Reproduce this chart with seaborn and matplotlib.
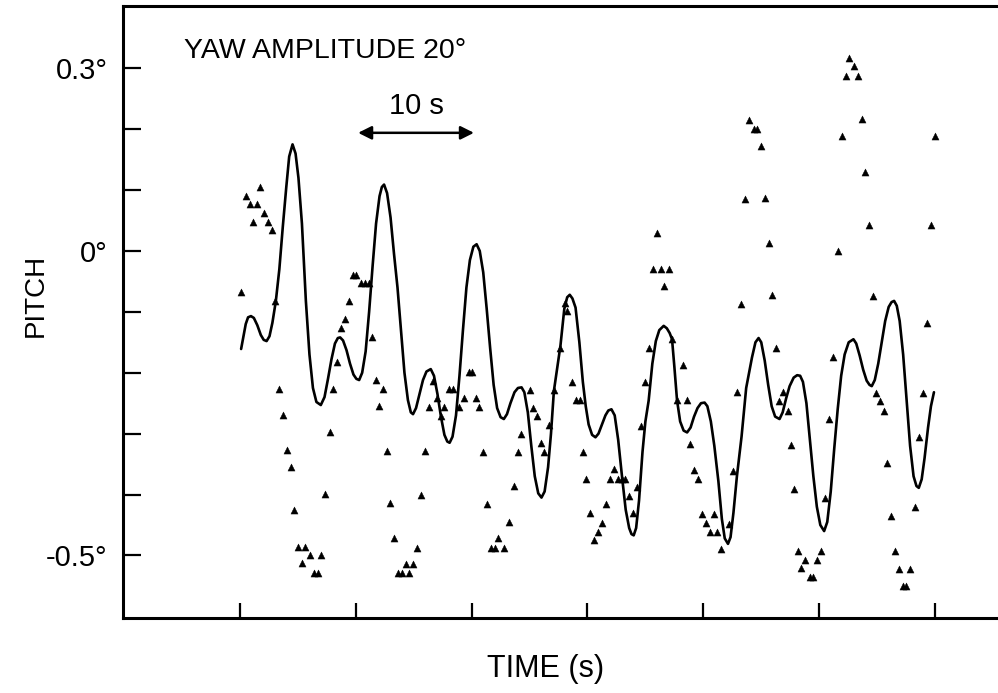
import matplotlib
matplotlib.use("Agg")
import matplotlib.pyplot as plt
import seaborn as sns
import pandas as pd

# ---- data (time in s, pitch in degrees) ----
curve_t = [0.10, 0.3, 0.5, 0.7, 0.95, 1.2, 1.5, 1.8, 2.05, 2.3,
           2.55, 2.8, 3.1, 3.4, 3.7, 4.0, 4.25, 4.54,
           4.8, 5.05, 5.35, 5.69, 6.0, 6.3, 6.6, 6.98,
           7.3, 7.6, 7.9, 8.2, 8.45, 8.65,
           8.9, 9.2, 9.5, 9.8, 10.05, 10.29,
           10.55, 10.85, 11.15, 11.45, 11.75, 12.05, 12.25, 12.44,
           12.7, 13.0, 13.3, 13.6, 13.9, 14.2, 14.5, 14.75, 14.94,
           15.2, 15.5, 15.8, 16.1, 16.47,
           16.75, 17.05, 17.35, 17.65, 17.9, 18.1,
           18.35, 18.65, 18.95, 19.25, 19.55, 19.85, 20.15, 20.43,
           20.7, 21.0, 21.3, 21.6, 21.9, 22.2, 22.5, 22.78,
           23.05, 23.35, 23.7, 24.0, 24.31,
           24.55, 24.85, 25.15, 25.45, 25.75, 26.03,
           26.3, 26.6, 26.85, 27.1, 27.4, 27.67, 28.0, 28.25, 28.47,
           28.7, 28.97, 29.3, 29.6, 29.85, 30.1, 30.4, 30.69,
           30.95, 31.25, 31.55, 31.8, 32.07,
           32.35, 32.65, 32.99, 33.3, 33.6, 33.8, 33.99,
           34.2, 34.45, 34.75, 35.0, 35.28, 35.6, 35.9, 36.2, 36.58,
           36.85, 37.1, 37.3, 37.5, 37.73, 38.0, 38.3, 38.6,
           38.9, 39.2, 39.5, 39.8, 40.11,
           40.35, 40.65, 40.95, 41.3, 41.6, 41.85, 42.13,
           42.35, 42.6, 42.9, 43.3, 43.7, 44.2, 44.5, 44.77,
           45.0, 45.3, 45.6, 45.9, 46.2, 46.58,
           46.85, 47.15, 47.45, 47.8, 48.1, 48.36,
           48.6, 48.9, 49.2, 49.5, 49.8, 50.1, 50.43,
           50.7, 51.0, 51.3, 51.6, 51.9, 52.2, 52.55, 52.96,
           53.2, 53.5, 53.8, 54.1, 54.35, 54.54,
           54.8, 55.1, 55.4, 55.7, 56.0, 56.25, 56.47,
           56.7, 56.95, 57.25, 57.55, 57.85, 58.15, 58.4, 58.6,
           58.85, 59.1, 59.4, 59.65, 59.91]
curve_v = [-0.161, -0.140, -0.120, -0.109, -0.107, -0.110, -0.122, -0.138, -0.146, -0.148,
           -0.140, -0.118, -0.082, -0.030, 0.040, 0.105, 0.155, 0.175,
           0.160, 0.120, 0.045, -0.082, -0.170, -0.225, -0.248, -0.253,
           -0.240, -0.210, -0.178, -0.152, -0.143, -0.142,
           -0.147, -0.163, -0.185, -0.203, -0.210, -0.212,
           -0.200, -0.165, -0.100, -0.025, 0.045, 0.090, 0.105, 0.109,
           0.095, 0.055, -0.005, -0.060, -0.130, -0.200, -0.245, -0.265, -0.268,
           -0.258, -0.235, -0.212, -0.198, -0.194,
           -0.205, -0.235, -0.272, -0.302, -0.313, -0.315,
           -0.305, -0.270, -0.205, -0.130, -0.060, -0.015, 0.007, 0.011,
           0.000, -0.035, -0.095, -0.160, -0.220, -0.258, -0.273, -0.276,
           -0.268, -0.250, -0.232, -0.225, -0.224,
           -0.232, -0.265, -0.320, -0.370, -0.398, -0.405,
           -0.395, -0.355, -0.300, -0.230, -0.190, -0.155, -0.095, -0.076, -0.072,
           -0.078, -0.093, -0.150, -0.215, -0.255, -0.285, -0.302, -0.306,
           -0.300, -0.285, -0.270, -0.262, -0.260,
           -0.270, -0.310, -0.372, -0.425, -0.455, -0.465, -0.467,
           -0.455, -0.410, -0.330, -0.280, -0.246, -0.185, -0.148, -0.130, -0.123,
           -0.127, -0.135, -0.145, -0.190, -0.245, -0.280, -0.295, -0.298,
           -0.290, -0.272, -0.258, -0.250, -0.249,
           -0.255, -0.280, -0.320, -0.378, -0.440, -0.472, -0.481,
           -0.470, -0.430, -0.370, -0.305, -0.225, -0.175, -0.150, -0.143,
           -0.150, -0.180, -0.220, -0.255, -0.272, -0.276,
           -0.265, -0.242, -0.222, -0.208, -0.204, -0.205,
           -0.215, -0.250, -0.310, -0.370, -0.420, -0.450, -0.460,
           -0.445, -0.395, -0.325, -0.260, -0.205, -0.170, -0.150, -0.145,
           -0.152, -0.172, -0.195, -0.213, -0.220, -0.222,
           -0.212, -0.185, -0.150, -0.115, -0.092, -0.084, -0.082,
           -0.090, -0.115, -0.170, -0.245, -0.320, -0.370, -0.386, -0.389,
           -0.375, -0.340, -0.290, -0.255, -0.232]

point_t = [0.09, 0.52, 0.86, 1.44, 1.09, 1.77, 2.09, 2.41, 2.76, 3.06,
           3.39, 3.75, 4.05, 4.40, 4.70, 4.97, 5.65, 5.34, 6.03, 6.41,
           6.75, 7.01, 7.35, 7.74, 8.04, 8.38, 8.71, 9.05, 9.42, 9.80,
           10.06, 10.47, 10.82, 11.15, 11.38, 11.72, 12.39, 12.03, 12.66, 12.97,
           13.32, 13.66, 14.03, 14.63, 14.31, 14.94, 15.32, 15.67, 15.97, 16.35,
           16.66, 17.04, 17.35, 17.65, 18.04, 18.39, 18.91, 19.34, 19.77, 20.06,
           20.34, 20.66, 20.99, 21.29, 21.68, 22.03, 22.28, 22.78, 23.26, 23.62,
           23.97, 24.29, 25.00, 25.32, 25.66, 25.95, 26.29, 26.66, 27.09, 27.67,
           28.06, 28.25, 28.68, 29.05, 29.33, 29.63, 29.89, 30.26, 30.60, 30.92,
           31.25, 31.58, 31.94, 32.27, 32.63, 32.99, 33.28, 33.56, 33.91, 34.28,
           34.63, 34.96, 35.28, 35.66, 36.01, 36.32, 37.01, 36.64, 37.27, 38.25,
           37.73, 38.59, 38.88, 39.22, 39.54, 39.89, 40.23, 40.89, 40.54, 41.21,
           41.49, 42.22, 42.56, 42.91, 43.28, 43.62, 43.98, 44.34, 44.63, 44.94,
           45.29, 45.63, 45.92, 46.27, 46.92, 46.57, 47.27, 47.56, 47.86, 48.15,
           50.16, 48.82, 49.80, 48.47, 49.20, 49.51, 50.53, 50.89, 51.23, 51.61,
           51.96, 52.61, 53.02, 52.35, 53.34, 53.68, 53.97, 54.31, 54.63, 54.94,
           55.26, 55.60, 55.86, 56.18, 56.53, 56.88, 57.87, 57.27, 57.52, 58.25,
           58.59, 58.94, 59.28, 59.64, 60.00]
point_v = [-0.067, 0.090, 0.077, 0.077, 0.048, 0.105, 0.062, 0.048, 0.034, -0.082,
           -0.226, -0.270, -0.327, -0.355, -0.426, -0.486, -0.486, -0.512, -0.499, -0.529,
           -0.529, -0.499, -0.399, -0.298, -0.226, -0.183, -0.126, -0.112, -0.083, -0.039,
           -0.039, -0.053, -0.053, -0.053, -0.141, -0.212, -0.227, -0.255, -0.328, -0.414,
           -0.471, -0.529, -0.529, -0.529, -0.514, -0.514, -0.487, -0.400, -0.328, -0.257,
           -0.213, -0.241, -0.271, -0.257, -0.227, -0.227, -0.257, -0.241, -0.198, -0.198,
           -0.241, -0.257, -0.330, -0.415, -0.487, -0.487, -0.472, -0.487, -0.445, -0.386,
           -0.330, -0.301, -0.229, -0.258, -0.271, -0.315, -0.330, -0.286, -0.229, -0.159,
           -0.085, -0.099, -0.216, -0.244, -0.244, -0.330, -0.374, -0.431, -0.474, -0.461,
           -0.446, -0.416, -0.374, -0.358, -0.374, -0.374, -0.374, -0.402, -0.431, -0.388,
           -0.287, -0.216, -0.159, -0.029, 0.029, -0.029, -0.029, -0.057, -0.144, -0.188,
           -0.244, -0.244, -0.317, -0.360, -0.375, -0.432, -0.447, -0.432, -0.461, -0.461,
           -0.490, -0.448, -0.361, -0.232, -0.087, 0.086, 0.215, 0.200, 0.200, 0.172,
           0.087, 0.013, -0.072, -0.159, -0.232, -0.246, -0.262, -0.318, -0.391, -0.492,
           -0.492, -0.507, -0.507, -0.521, -0.535, -0.535, -0.405, -0.276, -0.174, 0.000,
           0.189, 0.317, 0.304, 0.288, 0.288, 0.216, 0.129, 0.042, -0.074, -0.233,
           -0.247, -0.263, -0.349, -0.435, -0.493, -0.522, -0.522, -0.550, -0.550, -0.421,
           -0.306, -0.234, -0.118, 0.042, 0.188]

x_ticks = [0, 10, 20, 30, 40, 50, 60]
y_ticks = [-0.5, -0.4, -0.3, -0.2, -0.1, 0.0, 0.1, 0.2, 0.3]
y_tick_labels = ["-0.5°", "", "", "", "", "0°", "", "", "0.3°"]

curve_df = pd.DataFrame({"time": curve_t, "pitch": curve_v})
point_df = pd.DataFrame({"time": point_t, "pitch": point_v})

# ---- style ----
sns.set_style("ticks")
plt.rcParams["font.family"] = ["Liberation Sans", "DejaVu Sans"]
plt.rcParams["text.color"] = "black"
plt.rcParams["axes.labelcolor"] = "black"
plt.rcParams["xtick.color"] = "black"
plt.rcParams["ytick.color"] = "black"

fig = plt.figure(figsize=(9.98, 6.93), dpi=100)
ax = fig.add_axes([0.1232, 0.108, 0.8868, 0.884])

sns.lineplot(data=curve_df, x="time", y="pitch", ax=ax, sort=False,
             estimator=None, color="black", linewidth=1.9)
sns.scatterplot(data=point_df, x="time", y="pitch", ax=ax, marker="^",
                color="black", s=26, edgecolor="black", linewidth=0.3, zorder=3)

ax.set_xlim(-10.1, 66.3)
ax.set_ylim(-0.603, 0.403)

ax.set_xticks(x_ticks)
ax.set_xticklabels([""] * len(x_ticks))
ax.set_yticks(y_ticks)
ax.set_yticklabels(y_tick_labels)

ax.tick_params(axis="x", direction="in", length=11, width=1.6, colors="black")
ax.tick_params(axis="y", direction="in", length=13, width=1.6, colors="black",
               labelsize=21, pad=11)

for side in ["left", "bottom", "top"]:
    ax.spines[side].set_linewidth(2.2)
    ax.spines[side].set_color("black")
ax.spines["right"].set_visible(False)

ax.set_xlabel("TIME (s)", fontsize=22)
ax.set_ylabel("PITCH", fontsize=20)
ax.xaxis.set_label_coords(0.478, -0.058)
ax.yaxis.set_label_coords(-0.084, 0.526)

ax.text(-4.85, 0.328, "YAW AMPLITUDE 20°", fontsize=20.5, ha="left",
        va="center")
ax.text(15.2, 0.238, "10 s", fontsize=21, ha="center", va="center")
ax.annotate("", xy=(10.2, 0.194), xytext=(20.2, 0.194),
            arrowprops=dict(arrowstyle="<|-|>", color="black", lw=1.8,
                            mutation_scale=20, shrinkA=0, shrinkB=0))

fig.savefig("out.png", dpi=100)
